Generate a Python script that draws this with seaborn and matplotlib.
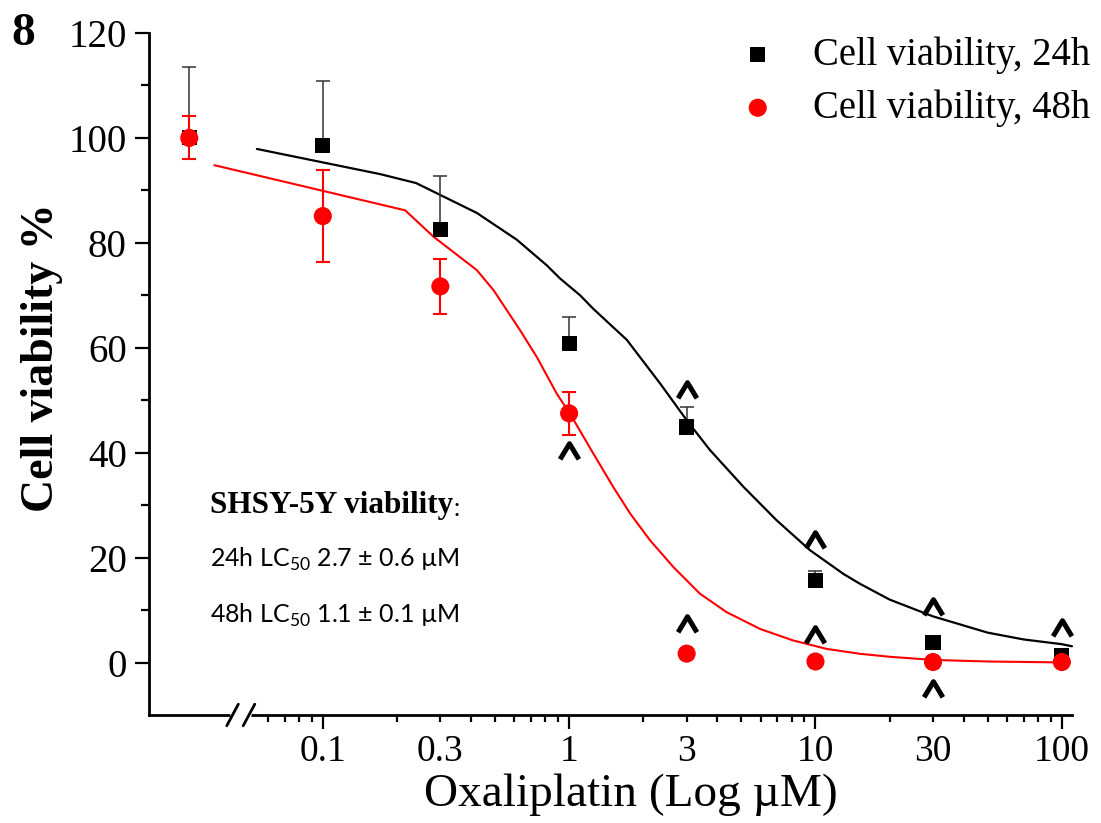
import numpy as np
import pandas as pd
import matplotlib
matplotlib.use("Agg")
import matplotlib.pyplot as plt
import seaborn as sns
from matplotlib.path import Path
from matplotlib.markers import MarkerStyle
from matplotlib.ticker import FixedLocator, FuncFormatter

# ---------------- DATA ----------------
CTRL_POS = 0.0287          # untreated control, drawn left of the axis break
conc = [0.1, 0.3, 1, 3, 10, 30, 100]
x_pts = [CTRL_POS] + conc

via_24h = [100, 98.6, 82.6, 60.9, 44.9, 15.7, 3.8, 1.4]
err_24h = [13.5, 12.2, 10.1, 4.9, 3.9, 1.7, 0.5, 0.4]
via_48h = [100, 85.1, 71.7, 47.5, 1.7, 0.2, 0.1, 0.1]
err_48h = [4.1, 8.8, 5.2, 4.1, 0, 0, 0, 0]

# fitted curves
fit24_x = [0.054, 0.171, 0.239, 0.422, 0.613, 0.812, 0.919, 1.108, 1.255, 1.715, 2.34, 3.0, 3.73,
           5.10, 6.96, 9.51, 12.98, 15.17, 20, 30, 50, 70, 100, 110]
fit24_y = [97.9, 93.1, 91.4, 85.7, 80.6, 75.7, 73.2, 70.0, 67.4, 61.5, 53.2, 46.2, 40.5,
           33.5, 27.1, 21.4, 16.9, 15.0, 12.0, 8.8, 5.7, 4.4, 3.5, 3.1]
fit48_x = [0.0363, 0.216, 0.281, 0.422, 0.493, 0.633, 0.740, 0.892, 1.009, 1.255, 1.513,
           1.769, 2.13, 2.65, 3.40, 4.36, 5.96, 8.13, 11.1, 15.2, 20, 30, 50, 108]
fit48_y = [94.8, 86.2, 81.2, 74.8, 71.0, 63.3, 58.2, 51.2, 47.4, 39.8, 33.4,
           28.4, 23.3, 18.2, 13.1, 9.6, 6.4, 4.2, 2.6, 1.66, 1.1, 0.5, 0.2, 0.0]

# significance marks (^)
sig24_x = [3, 10, 30, 100]
sig24_y = [51.9, 23.3, 10.5, 6.5]
sig48_x = [1, 3, 10, 30]
sig48_y = [40.4, 7.4, 5.3, -5.0]

# ---------------- STYLE ----------------
sns.set_style("ticks")
plt.rcParams["font.family"] = ["Liberation Serif", "DejaVu Serif"]
plt.rcParams["text.color"] = "black"
plt.rcParams["axes.labelcolor"] = "black"
SERIF = "Liberation Serif"
SANS = "Lato"

W, H = 1101, 823
fig = plt.figure(figsize=(W / 100, H / 100), dpi=100)
ax = fig.add_axes([149 / W, 108 / H, 923 / W, 682 / H])
ax.set_xscale("log")

# ---------------- CURVES ----------------
sns.lineplot(x=fit24_x, y=fit24_y, color="black", lw=1.6, ax=ax,
             sort=False, estimator=None, clip_on=False, zorder=2)
sns.lineplot(x=fit48_x, y=fit48_y, color="#ff0000", lw=1.5, ax=ax,
             sort=False, estimator=None, clip_on=False, zorder=2)

# ---------------- POINTS ----------------
ax.errorbar(x_pts, via_24h, yerr=[np.zeros(len(err_24h)), err_24h], fmt="none",
            ecolor="#333333", elinewidth=1.1, capsize=4.7, capthick=1.1, zorder=3)
sns.scatterplot(x=x_pts, y=via_24h, marker="s", s=118, color="black",
                edgecolor="none", ax=ax, zorder=4, label="Cell viability, 24h")
ax.errorbar(x_pts, via_48h, yerr=err_48h, fmt="none",
            ecolor="#ff0000", elinewidth=1.5, capsize=4.7, capthick=1.5, zorder=5)
sns.scatterplot(x=x_pts, y=via_48h, marker="o", s=170, color="#ff0000",
                edgecolor="none", ax=ax, zorder=6, label="Cell viability, 48h")

caret = MarkerStyle(Path([(-0.6, -0.5), (0, 0.5), (0.6, -0.5)],
                         [Path.MOVETO, Path.LINETO, Path.LINETO]),
                    fillstyle="none", joinstyle="miter")
for sx, sy in [(sig24_x, sig24_y), (sig48_x, sig48_y)]:
    ax.plot(sx, sy, ls="none", marker=caret, ms=13.5, mew=3.6, mec="black",
            clip_on=False, zorder=7)

# ---------------- AXES ----------------
ax.set_xlim(0.0197, 110)
ax.set_ylim(-10, 120)
sns.despine(ax=ax)
for s in ["left", "bottom"]:
    ax.spines[s].set_linewidth(2.0)
    ax.spines[s].set_color("black")

ax.xaxis.set_major_locator(FixedLocator([0.1, 1, 10, 100]))
ax.xaxis.set_major_formatter(FuncFormatter(lambda v, p: f"{v:g}"))
minor_x = [k * 10.0 ** e for e in range(-2, 2) for k in range(2, 10)]
minor_x = [m for m in minor_x if 0.055 < m < 100]
ax.xaxis.set_minor_locator(FixedLocator(minor_x))
ax.xaxis.set_minor_formatter(FuncFormatter(
    lambda v, p: f"{v:g}" if round(v / 10 ** np.floor(np.log10(v) + 1e-9)) == 3 else ""))

ax.set_yticks(np.arange(0, 121, 20))
ax.set_yticks(np.arange(10, 120, 20), minor=True)

ax.tick_params(axis="both", which="both", direction="out", color="black",
               labelcolor="black", width=1.6)
ax.tick_params(axis="x", which="major", length=10, pad=4, labelsize=27)
ax.tick_params(axis="x", which="minor", length=5, pad=9, labelsize=27)
ax.tick_params(axis="y", which="major", length=10, pad=6, labelsize=28)
ax.tick_params(axis="y", which="minor", length=5.5)

ax.set_xlabel("Oxaliplatin (Log µM)", fontsize=34, va="center")
ax.xaxis.set_label_coords(0.522, -0.117)
ax.set_ylabel("Cell viability %", fontsize=33, fontweight="bold", va="center")
ax.yaxis.set_label_coords(-0.116, 0.524)

# axis break on the x axis
BREAK_AX = [0.0905, 0.1083]
ax.plot(BREAK_AX, [0, 0], color="white", lw=4, transform=ax.transAxes,
        clip_on=False, zorder=8)
dx, dy = 5.8 / 923, 10.8 / 682
for b in BREAK_AX:
    ax.plot([b - dx, b + dx], [-dy, dy], color="black", lw=2.0,
            transform=ax.transAxes, clip_on=False, zorder=9)

# ---------------- LEGEND ----------------
handles, labels = ax.get_legend_handles_labels()
ax.legend(handles, labels, loc="upper left", bbox_to_anchor=(723 / W, 1 - 21 / H),
          bbox_transform=fig.transFigure, frameon=False, borderaxespad=0,
          handlelength=1.0, handletextpad=0.93, labelspacing=0.4,
          prop={"family": SERIF, "size": 27.8})

# ---------------- TEXT ----------------
fig.text(23 / W, 1 - 45 / H, "8", fontsize=34, fontweight="bold", family=SERIF,
         ha="center", va="baseline")
t1 = ax.text(0.066, 0.296, "SHSY-5Y viability", transform=ax.transAxes,
             family=SERIF, fontweight="bold", fontsize=22.5, va="baseline")
ax.annotate(":", xy=(1, 0), xycoords=t1, va="bottom", ha="left",
            family=SANS, fontsize=18)
ax.text(0.066, 0.217, r"24h LC$_{\mathregular{50}}$ 2.7 ± 0.6 µM", transform=ax.transAxes,
        family=SANS, fontsize=18, va="baseline")
ax.text(0.066, 0.135, r"48h LC$_{\mathregular{50}}$ 1.1 ± 0.1 µM", transform=ax.transAxes,
        family=SANS, fontsize=18, va="baseline")

plt.savefig("out.png", dpi=100)
